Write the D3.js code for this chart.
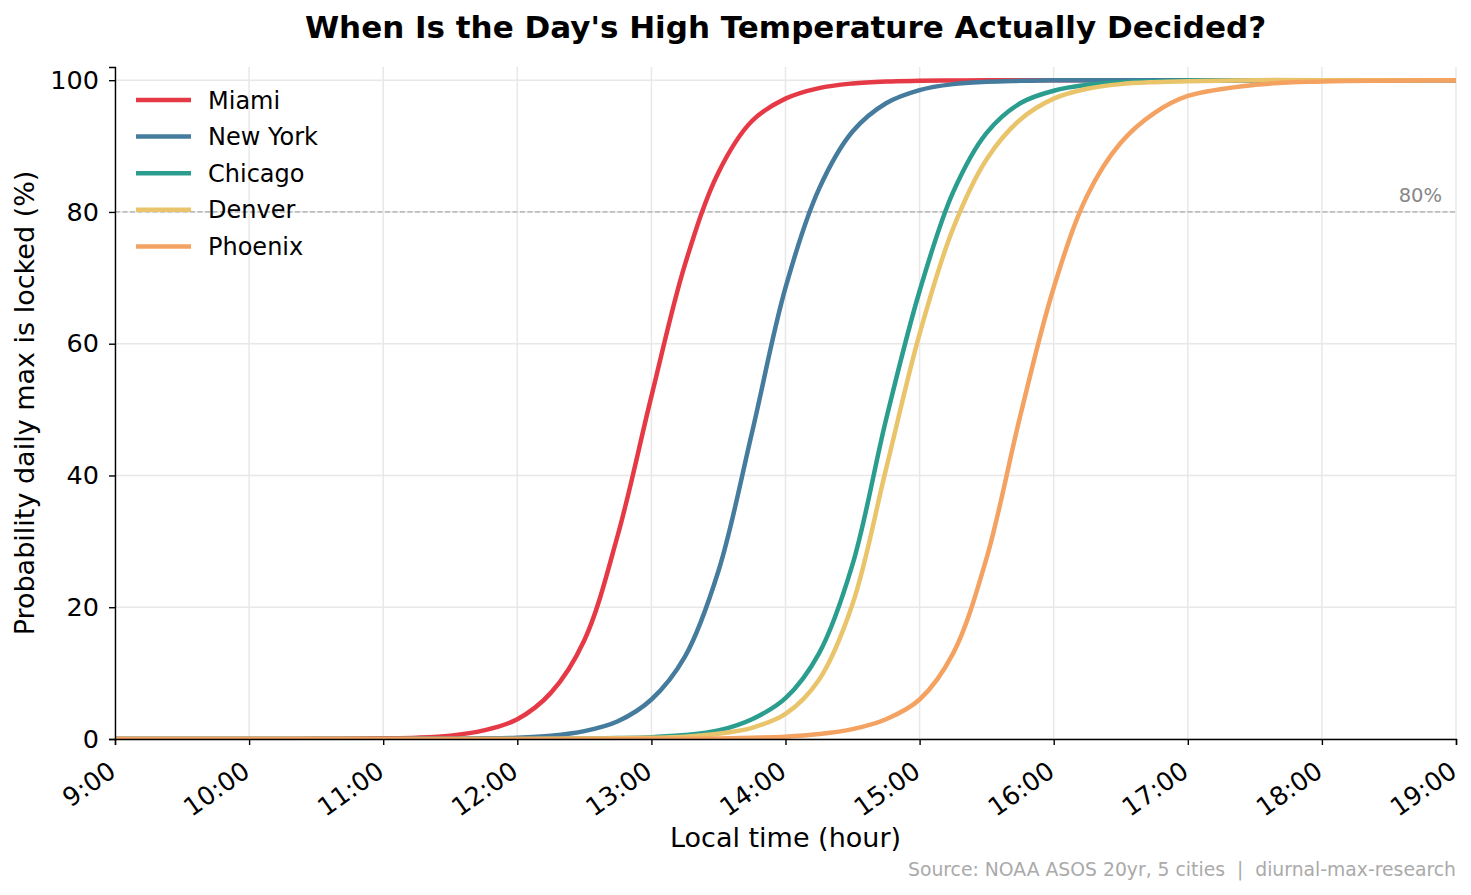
<!DOCTYPE html>
<html>
<head>
<meta charset="utf-8">
<script src="https://cdn.jsdelivr.net/npm/d3@7"></script>
<style>
  body { margin: 0; background: #fff; }
  svg { display: block; }
  svg text { font-family: "DejaVu Sans", sans-serif; }
</style>
</head>
<body>
<svg id="chart" width="1471" height="895"></svg>
<script>
const times = [9, 10, 10.5, 11, 11.25, 11.5, 11.75, 12, 12.25, 12.5, 12.75, 13, 13.25, 13.5, 13.75,
               14, 14.25, 14.5, 14.75, 15, 15.25, 15.5, 15.75, 16, 16.25, 16.5, 16.75, 17, 17.5, 18, 19];

const miami   = [0, 0, 0.02, 0.1, 0.2, 0.5, 1.3, 3.0, 7.0, 15, 31, 52, 72, 86, 93.8,
                 97.2, 98.8, 99.5, 99.8, 99.9, 99.95, 100, 100, 100, 100, 100, 100, 100, 100, 100, 100];
const newYork = [0, 0, 0, 0.01, 0.02, 0.05, 0.1, 0.2, 0.5, 1.2, 2.7, 6.0, 12.5, 25.5, 46.5,
                 68.5, 83.5, 92.2, 96.5, 98.5, 99.4, 99.75, 99.9, 100, 100, 100, 100, 100, 100, 100, 100];
const chicago = [0, 0, 0, 0, 0, 0, 0.01, 0.02, 0.04, 0.08, 0.15, 0.28, 0.6, 1.3, 3.0,
                 6.2, 13, 26.5, 48.5, 68, 83, 92, 96.5, 98.4, 99.3, 99.7, 99.85, 99.95, 100, 100, 100];
const denver  = [0, 0, 0, 0, 0, 0, 0, 0.01, 0.03, 0.06, 0.1, 0.18, 0.35, 0.8, 1.7,
                 3.8, 9, 20.5, 41, 61.5, 77.5, 88, 94, 97.2, 98.7, 99.4, 99.7, 99.85, 100, 100, 100];
const phoenix = [0, 0, 0, 0, 0, 0, 0, 0, 0, 0, 0.01, 0.02, 0.04, 0.08, 0.2,
                 0.35, 0.75, 1.5, 3.0, 6.0, 13, 27.5, 49, 68.5, 82.5, 90.5, 95, 97.6, 99.3, 99.8, 100];

const cities = ["Miami", "New York", "Chicago", "Denver", "Phoenix"];
const seriesValues = [miami, newYork, chicago, denver, phoenix];
const colors = ["#e63946", "#457b9d", "#2a9d8f", "#e9c46a", "#f4a261"];

const xTicks = [9, 10, 11, 12, 13, 14, 15, 16, 17, 18, 19];
const yTicks = [0, 20, 40, 60, 80, 100];
const threshold = 80;

const svg = d3.select("#chart");
const margin = { left: 115, right: 15, top: 67, bottom: 156 };
const W = 1471, H = 895;

const x = d3.scaleLinear().domain([9, 19]).range([margin.left, W - margin.right]);
const y = d3.scaleLinear().domain([0, 102]).range([H - margin.bottom, margin.top]);

// grid
const grid = svg.append("g");
grid.selectAll(".vg").data(xTicks).join("line")
  .attr("x1", d => x(d)).attr("x2", d => x(d))
  .attr("y1", y(0)).attr("y2", y(102))
  .attr("stroke", "#e8e8e8").attr("stroke-width", 1.5);
grid.selectAll(".hg").data(yTicks).join("line")
  .attr("x1", x(9)).attr("x2", x(19))
  .attr("y1", d => y(d)).attr("y2", d => y(d))
  .attr("stroke", "#e8e8e8").attr("stroke-width", 1.5);

// 80% reference line
svg.append("line")
  .attr("x1", x(9)).attr("x2", x(19))
  .attr("y1", y(threshold)).attr("y2", y(threshold))
  .attr("stroke", "#aaaaaa").attr("stroke-width", 1.3)
  .attr("stroke-dasharray", "5,2.5");
svg.append("text")
  .attr("x", x(19) - 14).attr("y", y(threshold) - 10)
  .attr("text-anchor", "end")
  .attr("font-size", "19.5px").attr("fill", "#888")
  .text("80%");

// curves
svg.append("clipPath").attr("id", "clip")
  .append("rect")
  .attr("x", x(9)).attr("y", y(102) - 5)
  .attr("width", x(19) - x(9)).attr("height", y(0) - y(102) + 5);

const line = d3.line()
  .x(d => x(d[0]))
  .y(d => y(d[1]))
  .curve(d3.curveCatmullRom.alpha(0.5));

const curves = svg.append("g").attr("clip-path", "url(#clip)");
cities.forEach((c, i) => {
  curves.append("path")
    .datum(times.map((t, k) => [t, seriesValues[i][k]]))
    .attr("fill", "none")
    .attr("stroke", colors[i])
    .attr("stroke-width", 4.5)
    .attr("stroke-linejoin", "round")
    .attr("d", line);
});

// axes
const fmt = d => `${d}:00`;
const xAxis = svg.append("g")
  .attr("transform", `translate(0,${y(0)})`)
  .call(d3.axisBottom(x).tickValues(xTicks).tickFormat(fmt).tickSize(6));
xAxis.selectAll("text")
  .attr("font-size", "25.5px").attr("fill", "#000")
  .attr("font-family", "DejaVu Sans")
  .attr("text-anchor", "end")
  .attr("x", 0).attr("y", 0).attr("dy", 0)
  .attr("transform", "translate(2,36) rotate(-35)");

const yAxis = svg.append("g")
  .attr("transform", `translate(${x(9)},0)`)
  .call(d3.axisLeft(y).tickValues(yTicks).tickSize(6).tickPadding(10));
yAxis.selectAll("text")
  .attr("font-size", "25.5px").attr("fill", "#000")
  .attr("font-family", "DejaVu Sans");

[xAxis, yAxis].forEach(a => {
  a.select(".domain").attr("stroke", "#000").attr("stroke-width", 1.4);
  a.selectAll(".tick line").attr("stroke", "#000").attr("stroke-width", 1.4);
});

// titles
svg.append("text")
  .attr("x", (x(9) + x(19)) / 2).attr("y", 37.5)
  .attr("text-anchor", "middle")
  .attr("font-size", "31px").attr("font-weight", "bold")
  .text("When Is the Day's High Temperature Actually Decided?");

svg.append("text")
  .attr("x", (x(9) + x(19)) / 2).attr("y", 847)
  .attr("text-anchor", "middle")
  .attr("font-size", "27px")
  .text("Local time (hour)");

svg.append("text")
  .attr("transform", `translate(34,${(y(0) + y(102)) / 2}) rotate(-90)`)
  .attr("text-anchor", "middle")
  .attr("font-size", "27px")
  .text("Probability daily max is locked (%)");

svg.append("text")
  .attr("x", x(19)).attr("y", 876)
  .attr("text-anchor", "end")
  .attr("font-size", "18.8px").attr("fill", "#aaaaaa")
  .style("white-space", "pre")
  .text("Source: NOAA ASOS 20yr, 5 cities  |  diurnal-max-research");

// legend
const legend = svg.append("g").attr("transform", "translate(136,100)");
cities.forEach((c, i) => {
  const g = legend.append("g").attr("transform", `translate(0,${i * 36.6})`);
  g.append("line").attr("x1", 0).attr("x2", 55).attr("y1", 0).attr("y2", 0)
    .attr("stroke", colors[i]).attr("stroke-width", 4.5);
  g.append("text").attr("x", 72).attr("y", 0).attr("dy", "0.36em")
    .attr("font-size", "24px").text(c);
});
</script>
</body>
</html>
